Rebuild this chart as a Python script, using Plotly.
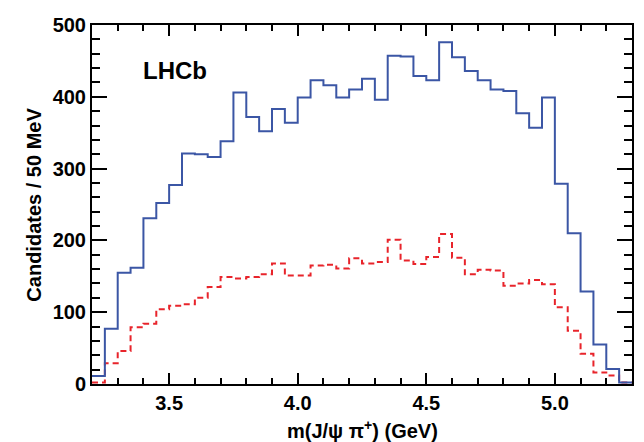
import numpy as np
import plotly.graph_objects as go

# Bin lower edges (GeV), 50 MeV bins from 3.20 to 5.30
bin_low = [3.20, 3.25, 3.30, 3.35, 3.40, 3.45, 3.50, 3.55, 3.60, 3.65,
           3.70, 3.75, 3.80, 3.85, 3.90, 3.95, 4.00, 4.05, 4.10, 4.15,
           4.20, 4.25, 4.30, 4.35, 4.40, 4.45, 4.50, 4.55, 4.60, 4.65,
           4.70, 4.75, 4.80, 4.85, 4.90, 4.95, 5.00, 5.05, 5.10, 5.15,
           5.20, 5.25]
bin_width = 0.05

# Blue solid histogram
counts_blue = [11, 77, 155, 162, 231, 252, 277, 321, 320, 316,
               338, 406, 372, 352, 383, 364, 399, 423, 416, 399,
               410, 425, 396, 457, 456, 429, 423, 476, 455, 436,
               423, 410, 408, 377, 357, 399, 279, 210, 129, 55,
               21, 2]

# Red dashed histogram
counts_red = [2, 29, 46, 79, 84, 104, 109, 111, 120, 135,
              149, 147, 149, 153, 168, 151, 151, 165, 166, 161,
              175, 168, 170, 201, 172, 167, 177, 209, 176, 153,
              159, 158, 137, 140, 145, 139, 107, 74, 42, 16,
              12, 2]

x_range = [3.2, 5.3]
y_range = [0, 500]
x_ticks = [3.5, 4.0, 4.5, 5.0]
x_ticklabels = ["3.5", "4.0", "4.5", "5.0"]
y_ticks = [0, 100, 200, 300, 400, 500]
y_ticklabels = ["0", "100", "200", "300", "400", "500"]


def step_xy(lows, counts):
    xs = list(lows) + [lows[-1] + bin_width]
    ys = list(counts) + [counts[-1]]
    return xs, ys


FONT = "Liberation Sans"

fig = go.Figure()
xr, yr = step_xy(bin_low, counts_red)
fig.add_trace(go.Scatter(x=xr, y=yr, mode="lines", line_shape="hv",
                         line=dict(color="#e8242b", width=2, dash="6px,4px"),
                         showlegend=False, hoverinfo="skip"))
xb, yb = step_xy(bin_low, counts_blue)
fig.add_trace(go.Scatter(x=xb, y=yb, mode="lines", line_shape="hv",
                         line=dict(color="#3b56a5", width=2),
                         showlegend=False, hoverinfo="skip"))

fig.add_annotation(x=3.39, y=437, xref="x", yref="y", text="<b>LHCb</b>",
                   showarrow=False, xanchor="left", yanchor="middle",
                   font=dict(family=FONT, size=24, color="black"))
fig.add_annotation(x=0.5, y=-0.128, xref="paper", yref="paper",
                   text="<b>m(J/ψ π<sup>+</sup>) (GeV)</b>", showarrow=False,
                   xanchor="center", yanchor="middle",
                   font=dict(family=FONT, size=20, color="black"))
fig.add_annotation(x=-0.109, y=0.5, xref="paper", yref="paper",
                   text="<b>Candidates / 50 MeV</b>", showarrow=False, textangle=-90,
                   xanchor="center", yanchor="middle",
                   font=dict(family=FONT, size=20, color="black"))

fig.update_layout(width=644, height=442, plot_bgcolor="white",
                  margin=dict(l=92, r=10, t=25, b=58))

fig.update_xaxes(range=x_range, showline=True, linecolor="black", linewidth=2,
                 mirror="ticks", ticks="inside", ticklen=11, tickwidth=2,
                 tickcolor="black", showgrid=False, zeroline=False,
                 tickvals=x_ticks, ticktext=["<b>%s</b>" % t for t in x_ticklabels],
                 tickfont=dict(family=FONT, size=20, color="black"),
                 minor=dict(ticks="inside", ticklen=6, dtick=0.1, tick0=3.2,
                            tickcolor="black", tickwidth=2))
fig.update_yaxes(range=y_range, showline=True, linecolor="black", linewidth=2,
                 mirror="ticks", ticks="inside", ticklen=15, tickwidth=2,
                 tickcolor="black", showgrid=False, zeroline=False,
                 tickvals=y_ticks, ticktext=["<b>%s</b>" % t for t in y_ticklabels],
                 tickfont=dict(family=FONT, size=20, color="black"),
                 minor=dict(ticks="inside", ticklen=8, dtick=20, tick0=0,
                            tickcolor="black", tickwidth=2))

fig.write_html("out.html", config={"displayModeBar": False},
               post_script="document.body.style.margin='0';")
